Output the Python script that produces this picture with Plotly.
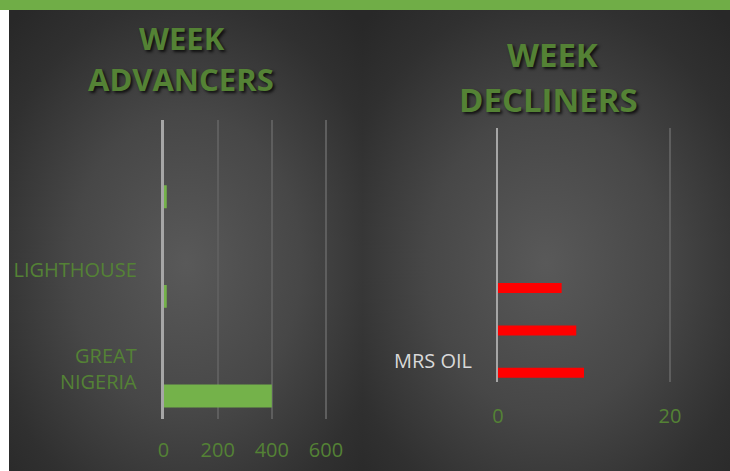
import base64
import plotly.graph_objects as go

W, H = 730, 471

# ---- data ----
adv_labels = ["GREAT<br>NIGERIA", "LIGHTHOUSE", ""]      # bottom -> top
adv_values = [400, 12, 12]

dec_labels = ["MRS OIL", "", "", "", "", ""]             # bottom -> top
dec_values = [10.0, 9.1, 7.4, None, None, None]

adv_ticks = [0, 200, 400, 600]
dec_ticks = [0, 20]

GREEN_TXT = "#548235"


def px_x(p):
    return p / W


def px_y(p):
    return 1 - p / H


# background: white margin, green strip, two dark panels with radial gradients
svg = f'''<svg xmlns="http://www.w3.org/2000/svg" width="{W}" height="{H}" viewBox="0 0 {W} {H}" preserveAspectRatio="none">
<defs>
<radialGradient id="g1" cx="50%" cy="55%" r="72%">
<stop offset="0" stop-color="#595959"/>
<stop offset="0.45" stop-color="#474747"/>
<stop offset="0.8" stop-color="#303030"/>
<stop offset="1" stop-color="#282828"/>
</radialGradient>
</defs>
<rect x="0" y="0" width="{W}" height="{H}" fill="#ffffff"/>
<rect x="9" y="10" width="354" height="{H-10}" fill="url(#g1)"/>
<rect x="362" y="10" width="{W-362}" height="{H-10}" fill="url(#g1)"/>
<rect x="0" y="0" width="{W}" height="10" fill="#70ad47"/>
</svg>'''
src = "data:image/svg+xml;base64," + base64.b64encode(svg.encode()).decode()

fig = go.Figure()

fig.add_trace(go.Bar(
    x=adv_values, y=list(range(len(adv_values))), orientation="h",
    marker=dict(color="#74b24a", line=dict(width=0)),
    offset=-0.385, width=0.23,
    xaxis="x", yaxis="y", showlegend=False, hoverinfo="x",
))

fig.add_trace(go.Bar(
    x=dec_values, y=list(range(len(dec_values))), orientation="h",
    marker=dict(color="#ff0000", line=dict(width=0)),
    offset=-0.40, width=0.236,
    xaxis="x2", yaxis="y2", showlegend=False, hoverinfo="x",
))

tick_font_g = dict(family="Open Sans, sans-serif", size=20, color=GREEN_TXT)

# pixel scales: left 200 units = 54.17 px, right 20 units = 172 px
L_X0, L_SCALE, L_MAX = 163.5, 54.17 / 200, 608
R_X0, R_SCALE, R_MAX = 498, 172 / 20, 20.3

fig.update_layout(
    template="none",
    width=W, height=H, autosize=False,
    margin=dict(l=0, r=0, t=0, b=0, pad=0),
    paper_bgcolor="#ffffff",
    plot_bgcolor="rgba(0,0,0,0)",
    images=[dict(source=src, xref="paper", yref="paper", x=0, y=1,
                 sizex=1, sizey=1, xanchor="left", yanchor="top",
                 sizing="stretch", layer="below")],
    xaxis=dict(domain=[px_x(L_X0), px_x(L_X0 + L_MAX * L_SCALE)], anchor="y",
               range=[0, L_MAX], tickvals=adv_ticks, automargin=False,
               showgrid=True, gridcolor="#5e5e5e", gridwidth=1.5,
               zeroline=False, showline=False,
               ticks="outside", ticklen=13, tickcolor="rgba(0,0,0,0)",
               tickfont=tick_font_g),
    yaxis=dict(domain=[px_y(419), px_y(120)], anchor="x", automargin=False,
               range=[-0.5, len(adv_values) - 0.5],
               tickvals=list(range(len(adv_labels))), ticktext=adv_labels,
               showgrid=False, zeroline=False,
               showline=True, linecolor="#a6a6a6", linewidth=2.5,
               ticks="outside", ticklen=20, tickcolor="rgba(0,0,0,0)",
               tickfont=tick_font_g),
    xaxis2=dict(domain=[px_x(R_X0), px_x(R_X0 + R_MAX * R_SCALE)], anchor="y2",
                range=[0, R_MAX], tickvals=dec_ticks, automargin=False,
                showgrid=True, gridcolor="#5e5e5e", gridwidth=1.5,
                zeroline=False, showline=False,
                ticks="outside", ticklen=16, tickcolor="rgba(0,0,0,0)",
                tickfont=tick_font_g),
    yaxis2=dict(domain=[px_y(382), px_y(128)], anchor="x2", automargin=False,
                range=[-0.5, len(dec_values) - 0.5],
                tickvals=list(range(len(dec_labels))), ticktext=dec_labels,
                showgrid=False, zeroline=False,
                showline=True, linecolor="#a6a6a6", linewidth=2,
                ticks="outside", ticklen=20, tickcolor="rgba(0,0,0,0)",
                tickfont=dict(family="Open Sans, sans-serif", size=20, color="#d9d9d9")),
)

title_shadow = "2px 2px 3px rgba(0,0,0,0.75)"


def title(text, cx, cy, size):
    fig.add_annotation(text=f"<b>{text}</b>", xref="paper", yref="paper",
                       x=px_x(cx), y=px_y(cy), xanchor="center", yanchor="middle",
                       showarrow=False,
                       font=dict(family="Open Sans, sans-serif", size=size,
                                 color=GREEN_TXT, shadow=title_shadow))


title("WEEK", 182, 38, 31)
title("ADVANCERS", 181, 79, 31)
title("WEEK", 552, 55, 33)
title("DECLINERS", 548, 100, 33)

post = (
    "document.documentElement.style.margin='0';"
    "document.body.style.margin='0';"
    "document.body.style.padding='0';"
    "document.body.style.overflow='hidden';"
)

fig.write_html("out.html", config={"displayModeBar": False}, post_script=post)
